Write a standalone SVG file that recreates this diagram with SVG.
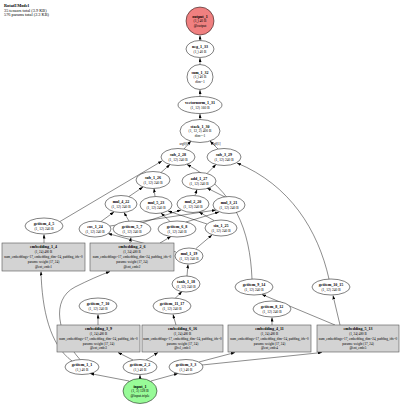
<svg xmlns="http://www.w3.org/2000/svg" width="400" height="405" viewBox="0 0 400 405">
<defs>
<marker id="ah" markerWidth="4" markerHeight="3" refX="4" refY="1.5" orient="auto" markerUnits="userSpaceOnUse"><path d="M0,0 L4,1.5 L0,3 z" fill="#000"/></marker>
</defs>
<style>
text{font-family:"Liberation Serif","Times New Roman",serif;fill:#000;text-anchor:middle}
.n{font-size:4px;font-weight:bold}
.d{font-size:3.6px}
.b{font-size:3.3px}
.h{font-size:4.3px;text-anchor:start}
.el{font-size:3px}
ellipse,circle{stroke:#000;stroke-width:0.5;fill:#fff}
.box{fill:#d3d3d3;stroke:#555;stroke-width:0.6}
.out{fill:#f08080}
.in{fill:#98fb98}
#edges path{fill:none;stroke:#000;stroke-width:0.45;marker-end:url(#ah)}
</style>
<rect width="400" height="405" fill="#fff"/>
<g id="header">
<text class="h" x="4" y="7" font-weight="bold">RotatEModel</text>
<text class="h" x="4" y="11.5">35 tensors total (3.9 KB)</text>
<text class="h" x="4" y="16">576 params total (2.3 KB)</text>
</g>
<g id="edges">
<path d="M129,381 L90,373.5"/>
<path d="M140,378.5 L140,375"/>
<path d="M151,381 L178,373.5"/>
<path d="M72,361 C50,345 42,310 41,271.5"/>
<path d="M80,359.5 C58,335 50,300 75,287 Q95,277 110,271.5"/>
<path d="M133,360 L118,352.5"/>
<path d="M146,360 L158,352.5"/>
<path d="M199,362 L235,352.5"/>
<path d="M202,365 L322,352.5"/>
<path d="M98,325 L98,314.5"/>
<path d="M176,325 L173,314.5"/>
<path d="M272,325 L272,317.5"/>
<path d="M335,325 L262,294.5"/>
<path d="M340,325 L333,295.5"/>
<path d="M175,298.5 L182,291.5"/>
<path d="M187,276 L188,264.5"/>
<path d="M176,252 L108,233.5"/>
<path d="M196,248.5 L212,235"/>
<path d="M44,243 L44,234.5"/>
<path d="M130,243 L131,237.5"/>
<path d="M160,243 L171,236.5"/>
<path d="M60,221.5 L162,161"/>
<path d="M161,172.5 L170,164.5"/>
<path d="M101,221.5 L114,212"/>
<path d="M110,226 L216,210"/>
<path d="M129,221 L124,212.5"/>
<path d="M143,222.5 L181,210"/>
<path d="M170,221.5 L161,213"/>
<path d="M186,222 L219,212"/>
<path d="M207,224 L168,211"/>
<path d="M214,220.5 L199,212"/>
<path d="M129,196.5 L143,187"/>
<path d="M155,196.5 L154,188.5"/>
<path d="M195,195.5 L197,189.5"/>
<path d="M225,197 L207,188"/>
<path d="M207,173.5 L216,164.5"/>
<path d="M252,279 C250,230 235,190 187,164.5"/>
<path d="M329,279 C318,230 290,185 237,163"/>
<path d="M184,149 L191,141"/>
<path d="M218,149 L210,141"/>
<path d="M200,119.5 L200,114"/>
<path d="M200,96.5 L200,90"/>
<path d="M200,64.5 L200,58"/>
<path d="M200,40.5 L200,35.5"/>
<text class="el" x="184" y="145">arg0[0]</text>
<text class="el" x="216" y="145">arg0[1]</text>
</g>
<g id="output_1"><circle class="out" cx="200" cy="21" r="14"/><text class="n" x="200" y="17.5">output_1</text><text class="d" x="200" y="22">(1,) 40 B</text><text class="d" x="200" y="26.5">@output</text></g>
<g id="neg_1_33"><ellipse cx="200" cy="49" rx="14" ry="8.5"/><text class="n" x="200" y="48">neg_1_33</text><text class="d" x="200" y="52.5">(1,) 40 B</text></g>
<g id="sum_1_32"><ellipse cx="200" cy="77" rx="13" ry="12.5"/><text class="n" x="200" y="73.5">sum_1_32</text><text class="d" x="200" y="78">(1,) 40 B</text><text class="d" x="200" y="82.5">dim=1</text></g>
<g id="norm_1_31"><ellipse cx="200" cy="105" rx="22" ry="8.5"/><text class="n" x="200" y="104">vectornorm_1_31</text><text class="d" x="200" y="108.5">(1, 12) 160 B</text></g>
<g id="stack_1_30"><ellipse cx="200" cy="131" rx="20" ry="11.5"/><text class="n" x="200" y="127.5">stack_1_30</text><text class="d" x="200" y="132">(1, 12, 2) 400 B</text><text class="d" x="200" y="136.5">dim=-1</text></g>
<g id="sub_2_28"><ellipse cx="178" cy="157" rx="17" ry="8.5"/><text class="n" x="178" y="156">sub_2_28</text><text class="d" x="178" y="160.5">(1, 12) 240 B</text></g>
<g id="sub_3_29"><ellipse cx="224" cy="157" rx="17" ry="8.5"/><text class="n" x="224" y="156">sub_3_29</text><text class="d" x="224" y="160.5">(1, 12) 240 B</text></g>
<g id="sub_1_26"><ellipse cx="153" cy="180" rx="17" ry="8.5"/><text class="n" x="153" y="179">sub_1_26</text><text class="d" x="153" y="183.5">(1, 12) 240 B</text></g>
<g id="add_1_27"><ellipse cx="199" cy="181" rx="17" ry="8.5"/><text class="n" x="199" y="180">add_1_27</text><text class="d" x="199" y="184.5">(1, 12) 240 B</text></g>
<g id="mul_4_22"><ellipse cx="121" cy="204" rx="16" ry="8.5"/><text class="n" x="121" y="203">mul_4_22</text><text class="d" x="121" y="207.5">(1, 12) 240 B</text></g>
<g id="mul_5_23"><ellipse cx="156" cy="205" rx="16" ry="8.5"/><text class="n" x="156" y="204">mul_5_23</text><text class="d" x="156" y="208.5">(1, 12) 240 B</text></g>
<g id="mul_2_20"><ellipse cx="193" cy="204" rx="16" ry="8.5"/><text class="n" x="193" y="203">mul_2_20</text><text class="d" x="193" y="207.5">(1, 12) 240 B</text></g>
<g id="mul_3_21"><ellipse cx="229" cy="205" rx="16" ry="8.5"/><text class="n" x="229" y="204">mul_3_21</text><text class="d" x="229" y="208.5">(1, 12) 240 B</text></g>
<g id="getitem_4_5"><ellipse cx="44" cy="226" rx="19" ry="8"/><text class="n" x="44" y="225">getitem_4_5</text><text class="d" x="44" y="229.5">(1, 12) 240 B</text></g>
<g id="cos_1_24"><ellipse cx="95" cy="229" rx="16" ry="8"/><text class="n" x="95" y="228">cos_1_24</text><text class="d" x="95" y="232.5">(1, 12) 240 B</text></g>
<g id="getitem_5_7"><ellipse cx="132" cy="229" rx="19" ry="8"/><text class="n" x="132" y="228">getitem_5_7</text><text class="d" x="132" y="232.5">(1, 12) 240 B</text></g>
<g id="getitem_6_8"><ellipse cx="177" cy="229" rx="19" ry="8"/><text class="n" x="177" y="228">getitem_6_8</text><text class="d" x="177" y="232.5">(1, 12) 240 B</text></g>
<g id="sin_1_25"><ellipse cx="221" cy="228" rx="16" ry="8"/><text class="n" x="221" y="227">sin_1_25</text><text class="d" x="221" y="231.5">(1, 12) 240 B</text></g>
<g id="embedding_1_4"><rect class="box" x="2" y="243" width="83" height="28"/><text class="n" x="43.5" y="248">embedding_1_4</text><text class="b" x="43.5" y="253">(1, 24) 480 B</text><text class="b" x="43.5" y="258">num_embeddings=17, embedding_dim=24, padding_idx=0</text><text class="b" x="43.5" y="263">params: weight (17, 24)</text><text class="b" x="43.5" y="268">@ent_emb:1</text></g>
<g id="embedding_2_6"><rect class="box" x="90" y="243" width="84" height="28"/><text class="n" x="132" y="248">embedding_2_6</text><text class="b" x="132" y="253">(1, 24) 480 B</text><text class="b" x="132" y="258">num_embeddings=17, embedding_dim=24, padding_idx=0</text><text class="b" x="132" y="263">params: weight (17, 24)</text><text class="b" x="132" y="268">@ent_emb:2</text></g>
<g id="mul_1_19"><ellipse cx="189" cy="256" rx="14" ry="8"/><text class="n" x="189" y="255">mul_1_19</text><text class="d" x="189" y="259.5">(1, 12) 240 B</text></g>
<g id="tanh_1_18"><ellipse cx="186" cy="284" rx="14" ry="8"/><text class="n" x="186" y="283">tanh_1_18</text><text class="d" x="186" y="287.5">(1, 12) 240 B</text></g>
<g id="getitem_9_14"><ellipse cx="254" cy="287" rx="19" ry="8"/><text class="n" x="254" y="286">getitem_9_14</text><text class="d" x="254" y="290.5">(1, 12) 240 B</text></g>
<g id="getitem_10_15"><ellipse cx="331" cy="287" rx="19" ry="8"/><text class="n" x="331" y="286">getitem_10_15</text><text class="d" x="331" y="290.5">(1, 12) 240 B</text></g>
<g id="getitem_7_10"><ellipse cx="98" cy="306" rx="19" ry="8"/><text class="n" x="98" y="305">getitem_7_10</text><text class="d" x="98" y="309.5">(1, 12) 240 B</text></g>
<g id="getitem_11_17"><ellipse cx="172" cy="306" rx="19" ry="8"/><text class="n" x="172" y="305">getitem_11_17</text><text class="d" x="172" y="309.5">(1, 12) 240 B</text></g>
<g id="getitem_8_12"><ellipse cx="272" cy="309" rx="19" ry="8"/><text class="n" x="272" y="308">getitem_8_12</text><text class="d" x="272" y="312.5">(1, 12) 240 B</text></g>
<g id="embedding_3_9"><rect class="box" x="57" y="325" width="83" height="27"/><text class="n" x="98.5" y="330">embedding_3_9</text><text class="b" x="98.5" y="335">(1, 24) 480 B</text><text class="b" x="98.5" y="340">num_embeddings=17, embedding_dim=24, padding_idx=0</text><text class="b" x="98.5" y="344.5">params: weight (17, 24)</text><text class="b" x="98.5" y="349">@ent_emb:3</text></g>
<g id="embedding_6_16"><rect class="box" x="142" y="325" width="81" height="27"/><text class="n" x="182.5" y="330">embedding_6_16</text><text class="b" x="182.5" y="335">(1, 24) 480 B</text><text class="b" x="182.5" y="340">num_embeddings=17, embedding_dim=24, padding_idx=0</text><text class="b" x="182.5" y="344.5">params: weight (17, 24)</text><text class="b" x="182.5" y="349">@rel_emb:1</text></g>
<g id="embedding_4_11"><rect class="box" x="228" y="325" width="83" height="27"/><text class="n" x="269.5" y="330">embedding_4_11</text><text class="b" x="269.5" y="335">(1, 24) 480 B</text><text class="b" x="269.5" y="340">num_embeddings=17, embedding_dim=24, padding_idx=0</text><text class="b" x="269.5" y="344.5">params: weight (17, 24)</text><text class="b" x="269.5" y="349">@ent_emb:4</text></g>
<g id="embedding_5_13"><rect class="box" x="317" y="325" width="82" height="27"/><text class="n" x="358" y="330">embedding_5_13</text><text class="b" x="358" y="335">(1, 24) 480 B</text><text class="b" x="358" y="340">num_embeddings=17, embedding_dim=24, padding_idx=0</text><text class="b" x="358" y="344.5">params: weight (17, 24)</text><text class="b" x="358" y="349">@ent_emb:5</text></g>
<g id="getitem_1_1"><ellipse cx="82" cy="367" rx="17" ry="7.5"/><text class="n" x="82" y="366">getitem_1_1</text><text class="d" x="82" y="370.5">(1,) 40 B</text></g>
<g id="getitem_2_2"><ellipse cx="140" cy="367" rx="17" ry="7.5"/><text class="n" x="140" y="366">getitem_2_2</text><text class="d" x="140" y="370.5">(1,) 40 B</text></g>
<g id="getitem_3_3"><ellipse cx="186" cy="367" rx="17" ry="7.5"/><text class="n" x="186" y="366">getitem_3_3</text><text class="d" x="186" y="370.5">(1,) 40 B</text></g>
<g id="input_1"><ellipse class="in" cx="140" cy="391" rx="17" ry="12.5"/><text class="n" x="140" y="387.5">input_1</text><text class="d" x="140" y="392">(1, 3) 128 B</text><text class="d" x="140" y="396.5">@input.triple</text></g>
</svg>
